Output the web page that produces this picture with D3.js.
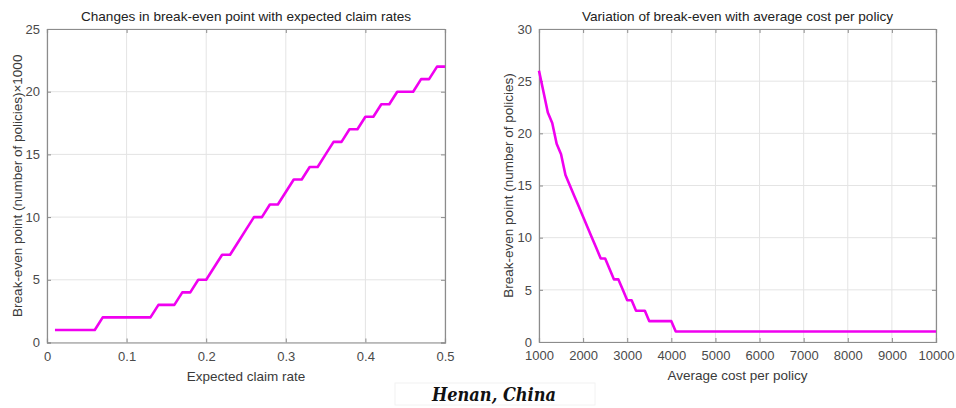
<!DOCTYPE html>
<html>
<head>
  <meta charset="utf-8">
  <script src="https://d3js.org/d3.v7.min.js"></script>
  <style>
    body { margin: 0; background: #fff; }
    text { font-family: "Liberation Sans", Arial, sans-serif; }
  </style>
</head>
<body>
<script>
  // left panel: break-even (x1000 policies) vs expected claim rate
  var claimRates = d3.range(1, 51).map(function (i) { return i / 100; });
  var breakEvenByRate = [1, 1, 1, 1, 1, 1, 2, 2, 2, 2,
                         2, 2, 2, 3, 3, 3, 4, 4, 5, 5,
                         6, 7, 7, 8, 9, 10, 10, 11, 11, 12,
                         13, 13, 14, 14, 15, 16, 16, 17, 17, 18,
                         18, 19, 19, 20, 20, 20, 21, 21, 22, 22];

  // right panel: break-even vs average cost per policy
  var avgCosts = d3.range(1000, 10001, 100);
  var breakEvenByCost = [26, 24, 22, 21, 19, 18, 16, 15, 14, 13,
                         12, 11, 10, 9, 8, 8, 7, 6, 6, 5,
                         4, 4, 3, 3, 3, 2, 2, 2, 2, 2,
                         2, 1].concat(d3.range(4200, 10001, 100).map(function () { return 1; }));

  var leftXTicks = [0, 0.1, 0.2, 0.3, 0.4, 0.5];
  var leftYTicks = [0, 5, 10, 15, 20, 25];
  var rightXTicks = d3.range(1000, 10001, 1000);
  var rightYTicks = [0, 5, 10, 15, 20, 25, 30];

  var svg = d3.select("body").append("svg")
      .attr("width", 956)
      .attr("height", 408);

  function panel(opt) {
    var x = d3.scaleLinear().domain(opt.xDomain).range([opt.left, opt.right]);
    var y = d3.scaleLinear().domain(opt.yDomain).range([opt.bottom, opt.top]);
    var g = svg.append("g");

    // grid
    g.selectAll(".gx").data(opt.xTicks).enter().append("line")
      .attr("x1", function (d) { return x(d); }).attr("x2", function (d) { return x(d); })
      .attr("y1", opt.top).attr("y2", opt.bottom)
      .attr("stroke", "#e4e4e4").attr("stroke-width", 1);
    g.selectAll(".gy").data(opt.yTicks).enter().append("line")
      .attr("y1", function (d) { return y(d); }).attr("y2", function (d) { return y(d); })
      .attr("x1", opt.left).attr("x2", opt.right)
      .attr("stroke", "#e4e4e4").attr("stroke-width", 1);

    // axes with inward ticks, box on all sides
    var fmt = opt.xFormat || d3.format("");
    g.append("g").attr("transform", "translate(0," + opt.bottom + ")")
      .call(d3.axisBottom(x).tickValues(opt.xTicks).tickSize(-4).tickPadding(9).tickFormat(fmt));
    g.append("g").attr("transform", "translate(0," + opt.top + ")")
      .call(d3.axisTop(x).tickValues(opt.xTicks).tickSize(-4).tickFormat(""));
    g.append("g").attr("transform", "translate(" + opt.left + ",0)")
      .call(d3.axisLeft(y).tickValues(opt.yTicks).tickSize(-4).tickPadding(7));
    g.append("g").attr("transform", "translate(" + opt.right + ",0)")
      .call(d3.axisRight(y).tickValues(opt.yTicks).tickSize(-4).tickFormat(""));

    g.selectAll(".domain").attr("stroke", "#8c8c8c").attr("stroke-width", 1.2);
    g.selectAll(".tick line").attr("stroke", "#8c8c8c");
    g.selectAll(".tick text").attr("fill", "#4a4a4a").style("font-size", "13px");

    // line
    var line = d3.line()
      .x(function (d) { return x(d[0]); })
      .y(function (d) { return y(d[1]); });
    g.append("path")
      .datum(d3.zip(opt.xs, opt.ys))
      .attr("fill", "none")
      .attr("stroke", "#f000f0")
      .attr("stroke-width", 2.6)
      .attr("stroke-linejoin", "round")
      .attr("d", line);

    // titles
    g.append("text")
      .attr("x", (opt.left + opt.right) / 2).attr("y", opt.top - 8)
      .attr("text-anchor", "middle").attr("fill", "#222")
      .style("font-size", "13.6px").text(opt.title);
    g.append("text")
      .attr("x", (opt.left + opt.right) / 2).attr("y", opt.bottom + 38)
      .attr("text-anchor", "middle").attr("fill", "#3a3a3a")
      .style("font-size", "13.5px").text(opt.xLabel);
    g.append("text")
      .attr("transform", "translate(" + opt.yLabelX + "," + (opt.top + opt.bottom) / 2 + ") rotate(-90)")
      .attr("text-anchor", "middle").attr("fill", "#3a3a3a")
      .style("font-size", "13.5px").text(opt.yLabel);
  }

  panel({
    left: 47, right: 445, top: 29, bottom: 342.5,
    xDomain: [0, 0.5], yDomain: [0, 25],
    xTicks: leftXTicks, yTicks: leftYTicks,
    xFormat: function (d) { return d === 0 ? "0" : d3.format(".1f")(d); },
    xs: claimRates, ys: breakEvenByRate,
    title: "Changes in break-even point with expected claim rates",
    xLabel: "Expected claim rate",
    yLabel: "Break-even point (number of policies)\u00d71000",
    yLabelX: 22
  });

  panel({
    left: 539, right: 936, top: 29, bottom: 342,
    xDomain: [1000, 10000], yDomain: [0, 30],
    xTicks: rightXTicks, yTicks: rightYTicks,
    xs: avgCosts, ys: breakEvenByCost,
    title: "Variation of break-even with average cost per policy",
    xLabel: "Average cost per policy",
    yLabel: "Break-even point (number of policies)",
    yLabelX: 513
  });

  // caption
  svg.append("rect")
    .attr("x", 395).attr("y", 383).attr("width", 200).attr("height", 22)
    .attr("fill", "none").attr("stroke", "#f2f2f2");
  svg.append("text")
    .attr("x", 494).attr("y", 401)
    .attr("text-anchor", "middle")
    .style("font-family", "'DejaVu Serif Condensed', 'DejaVu Serif', serif")
    .style("font-stretch", "condensed")
    .style("font-style", "italic").style("font-weight", "bold")
    .style("font-size", "18px").attr("fill", "#111")
    .text("Henan, China");
</script>
</body>
</html>
